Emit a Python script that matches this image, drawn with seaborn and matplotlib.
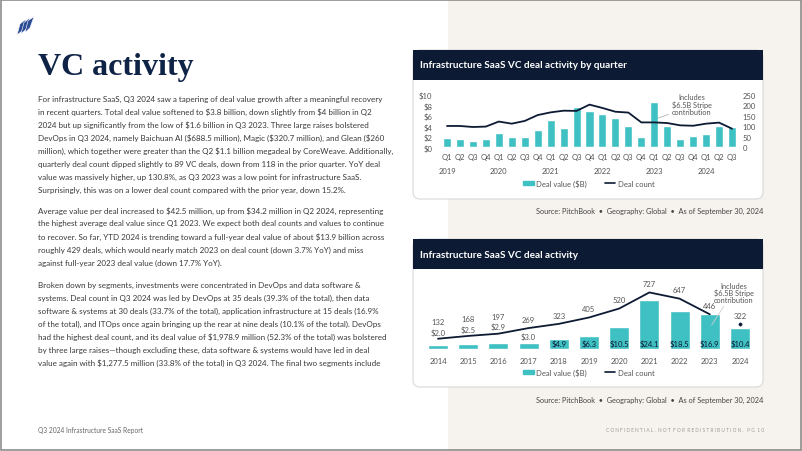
import numpy as np
import pandas as pd
import matplotlib.pyplot as plt
import seaborn as sns
from matplotlib.patches import Rectangle, FancyBboxPatch, Polygon, Patch
from matplotlib.lines import Line2D

# quarterly data
quarters = ["Q1", "Q2", "Q3", "Q4"] * 5 + ["Q1", "Q2", "Q3"]
q_years = [2019] * 4 + [2020] * 4 + [2021] * 4 + [2022] * 4 + [2023] * 4 + [2024] * 3
q_value = [1.7, 1.6, 1.2, 1.6, 2.8, 2.0, 2.0, 3.3, 5.3, 3.7, 7.7, 6.9,
           6.4, 5.6, 4.0, 2.0, 8.7, 4.0, 1.6, 2.2, 2.6, 4.0, 3.8]
q_count = [102, 102, 97, 99, 123, 113, 126, 154, 167, 175, 174, 204,
           188, 170, 166, 119, 119, 116, 105, 103, 113, 118, 89]

# annual data
years = ["2014", "2015", "2016", "2017", "2018", "2019", "2020", "2021", "2022", "2023", "2024"]
y_value = [2.0, 2.5, 2.9, 3.0, 4.9, 6.3, 10.5, 24.1, 18.5, 16.9, 10.4]
y_count = [132, 168, 197, 269, 323, 405, 520, 727, 647, 446, 322]

para1 = [
    "For infrastructure SaaS, Q3 2024 saw a tapering of deal value growth after a meaningful recovery",
    "in recent quarters. Total deal value softened to $3.8 billion, down slightly from $4 billion in Q2",
    "2024 but up significantly from the low of $1.6 billion in Q3 2023. Three large raises bolstered",
    "DevOps in Q3 2024, namely Baichuan AI ($688.5 million), Magic ($320.7 million), and Glean ($260",
    "million), which together were greater than the Q2 $1.1 billion megadeal by CoreWeave. Additionally,",
    "quarterly deal count dipped slightly to 89 VC deals, down from 118 in the prior quarter. YoY deal",
    "value was massively higher, up 130.8%, as Q3 2023 was a low point for infrastructure SaaS.",
    "Surprisingly, this was on a lower deal count compared with the prior year, down 15.2%.",
]
para2 = [
    "Average value per deal increased to $42.5 million, up from $34.2 million in Q2 2024, representing",
    "the highest average deal value since Q1 2023. We expect both deal counts and values to continue",
    "to recover. So far, YTD 2024 is trending toward a full-year deal value of about $13.9 billion across",
    "roughly 429 deals, which would nearly match 2023 on deal count (down 3.7% YoY) and miss",
    "against full-year 2023 deal value (down 17.7% YoY).",
]
para3 = [
    "Broken down by segments, investments were concentrated in DevOps and data software &",
    "systems. Deal count in Q3 2024 was led by DevOps at 35 deals (39.3% of the total), then data",
    "software & systems at 30 deals (33.7% of the total), application infrastructure at 15 deals (16.9%",
    "of the total), and ITOps once again bringing up the rear at nine deals (10.1% of the total). DevOps",
    "had the highest deal count, and its deal value of $1,978.9 million (52.3% of the total) was bolstered",
    "by three large raises\u2014though excluding these, data software & systems would have led in deal",
    "value again with $1,277.5 million (33.8% of the total) in Q3 2024. The final two segments include",
]

TEAL = "#3fc0c3"
NAVY = "#0c1a33"
GREY = "#555555"
W, H = 802, 452

sns.set_style("white")
plt.rcParams["font.family"] = ["Lato", "DejaVu Sans"]
plt.rcParams["text.parse_math"] = False


def px_rect(x0, y0, x1, y1):
    return [x0 / W, 1 - y1 / H, (x1 - x0) / W, (y1 - y0) / H]


fig = plt.figure(figsize=(8.02, 4.52), dpi=100)
bg = fig.add_axes([0, 0, 1, 1])
bg.set_xlim(0, W)
bg.set_ylim(H, 0)
bg.axis("off")

bg.add_patch(Rectangle((448, 0), W - 448, H, color="#f6f3ee", lw=0))
bg.add_patch(Rectangle((0.6, 0.6), W - 1.2, H - 1.2, fill=False, ec="#8c8c8c", lw=1.2))

# logo
for dx in [0, 4, 8]:
    bg.add_patch(Polygon([(17 + dx, 36 - dx * 0.3), (20 + dx, 25 - dx * 0.4),
                          (26 + dx, 20 - dx * 0.3), (22 + dx, 32 - dx * 0.4)],
                         closed=True, fc="#2c4d96", ec="white", lw=0.4))

bg.text(38, 75, "VC activity", fontsize=23, family="Liberation Serif",
        weight="bold", color="#0f2347", va="baseline")

for start, lines in [(99, para1), (211, para2), (285, para3)]:
    for i, line in enumerate(lines):
        bg.text(38, start + 13 * i, line, fontsize=5.75, color="#383838", va="center")

bg.text(38, 431, "Q3 2024 Infrastructure SaaS Report", fontsize=4.8, color="#666666", va="center")
bg.text(764, 431, "C O N F I D E N T I A L .  N O T  F O R  R E D I S T R I B U T I O N .   P G  1 0",
        fontsize=3.45, color="#9a9a9a", va="center", ha="right")

# chart boxes
for top, bottom, title, src_y in [(51, 200, "Infrastructure SaaS VC deal activity by quarter", 211),
                                  (240, 388, "Infrastructure SaaS VC deal activity", 400)]:
    bg.add_patch(FancyBboxPatch((413, top), 350, bottom - top,
                                boxstyle="round,pad=0,rounding_size=7",
                                fc="white", ec="#d8d8d8", lw=0.8))
    bg.add_patch(Rectangle((413, top), 350, 30, fc=NAVY, lw=0))
    bg.text(420, top + 15, title, fontsize=7.2, weight="bold", color="white", va="center")
    bg.text(763, src_y, "Source: PitchBook  \u2022  Geography: Global  \u2022  As of September 30, 2024",
            fontsize=5.3, color="#444444", va="center", ha="right")

handles = [Patch(color=TEAL), Line2D([], [], color=NAVY, lw=1.2)]
labels = ["Deal value ($B)", "Deal count"]
leg_kw = dict(loc="center", ncol=2, frameon=False, fontsize=5.5, handlelength=1.35,
              handleheight=0.5, columnspacing=2.4, handletextpad=0.3, labelcolor=GREY)

# top chart: quarterly
df_q = pd.DataFrame({"period": [f"{y} {q}" for y, q in zip(q_years, quarters)],
                     "value": q_value})
ax1 = fig.add_axes(px_rect(439.2, 96, 739.8, 148.3))
ax1.patch.set_alpha(0)
sns.barplot(data=df_q, x="period", y="value", color=TEAL, saturation=1,
            width=0.62, ax=ax1)
ax1.set_ylim(0, 10)
ax1.set_yticks(range(0, 11, 2))
ax1.set_yticklabels([f"${v}" for v in range(0, 11, 2)])
ax1.set_xticks(range(len(quarters)))
ax1.set_xticklabels(quarters)
ax1.set_xlabel("")
ax1.set_ylabel("")
ax1.tick_params(length=0, labelsize=5.5, colors=GREY)
ax1.tick_params(axis="y", pad=5)
ax1.tick_params(axis="x", pad=4)
for i, (q, yr) in enumerate(zip(quarters, q_years)):
    if q == "Q1":
        ax1.annotate(str(yr), xy=(i, 0), xycoords=("data", "axes fraction"),
                     xytext=(0, -17), textcoords="offset points",
                     ha="center", va="center", fontsize=5.5, color=GREY)
ax1b = ax1.twinx()
sns.lineplot(x=np.arange(len(q_count)), y=q_count, ax=ax1b, color=NAVY, lw=1.3)
ax1b.set_ylim(0, 250)
ax1b.set_yticks(range(0, 251, 50))
ax1b.tick_params(length=0, labelsize=5.5, colors=GREY, pad=2)
ax1.set_xlim(-0.6, 22.6)
for a in (ax1, ax1b):
    sns.despine(ax=a, left=True, bottom=True, right=True, top=True)
ax1.annotate("Includes\n$6.5B Stripe\ncontribution", xy=(16.31, 5.6), xytext=(18.9, 8.3),
             ha="center", va="center", fontsize=5.3, color=GREY, linespacing=1.0,
             annotation_clip=False,
             arrowprops=dict(arrowstyle="-", color="#b5b5b5", lw=0.6,
                             shrinkA=0, shrinkB=0, relpos=(0.05, 0.1)))
fig.legend(handles, labels, bbox_to_anchor=(589 / W, 1 - 184 / H), **leg_kw)

# bottom chart: annual
df_y = pd.DataFrame({"year": years, "value": y_value})
ax2 = fig.add_axes(px_rect(419.9, 285, 758.1, 350))
ax2.patch.set_alpha(0)
sns.barplot(data=df_y, x="year", y="value", color=TEAL, saturation=1, width=0.66, ax=ax2)
ax2.set_ylim(0, 31.7)
ax2.set_yticks([])
ax2.set_xlabel("")
ax2.set_ylabel("")
ax2.tick_params(length=0, labelsize=5.5, colors=GREY, pad=6)
ax2b = ax2.twinx()
sns.lineplot(x=np.arange(10), y=y_count[:10], ax=ax2b, color=NAVY, lw=1.3)
sns.scatterplot(x=[10], y=[y_count[10]], ax=ax2b, color=NAVY, s=6, edgecolor=NAVY)
ax2b.set_ylim(0, 835.5)
ax2b.set_yticks([])
ax2.set_xlim(-0.6, 10.6)
for a in (ax2, ax2b):
    sns.despine(ax=a, left=True, bottom=True, right=True, top=True)

for i, (v, c) in enumerate(zip(y_value, y_count)):
    if i < 3:
        ax2b.annotate(f"{c}", xy=(i, c), xytext=(0, 12.5), textcoords="offset points",
                      ha="center", va="center", fontsize=5.5, color=GREY)
        ax2b.annotate(f"${v:.1f}", xy=(i, c), xytext=(0, 5), textcoords="offset points",
                      ha="center", va="center", fontsize=5.5, color=GREY)
    else:
        ax2b.annotate(f"{c}", xy=(i, c), xytext=(0, 6.3), textcoords="offset points",
                      ha="center", va="center", fontsize=5.5, color=GREY)
        if i == 3:
            ax2.annotate(f"${v:.1f}", xy=(i, v), xytext=(0, 4.5), textcoords="offset points",
                         ha="center", va="center", fontsize=5.5, color=GREY)
        else:
            ax2.text(i, 2.9, f"${v:.1f}", ha="center", va="center", fontsize=5.5, color=NAVY)

ax2.annotate("Includes\n$6.5B Stripe\ncontribution", xy=(9.06, 11.7), xytext=(9.8, 27.6),
             ha="center", va="center", fontsize=5.3, color=GREY, linespacing=1.0,
             annotation_clip=False,
             arrowprops=dict(arrowstyle="-", color="#d0d0d0", lw=0.6,
                             shrinkA=0, shrinkB=0, relpos=(0.3, 0.0)))
fig.legend(handles, labels, bbox_to_anchor=(589 / W, 1 - 373 / H), **leg_kw)

fig.savefig("out.png", dpi=100)
